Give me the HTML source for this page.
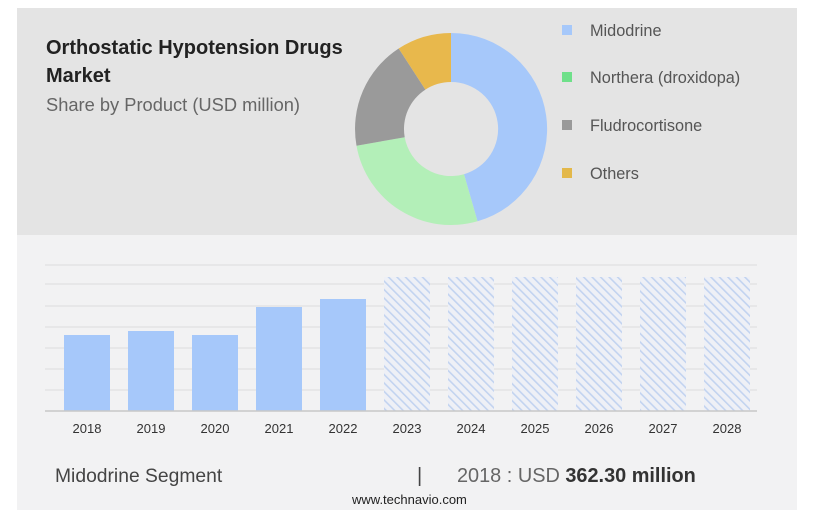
<!DOCTYPE html>
<html><head><meta charset="utf-8"><style>
body{margin:0;width:816px;height:520px;background:#fff;position:relative;overflow:hidden;font-family:"Liberation Sans",sans-serif}
.t{position:absolute;white-space:nowrap}
</style></head><body>
<div style="position:absolute;left:17px;top:8px;width:780px;height:227px;background:#e4e4e4"></div>
<div style="position:absolute;left:17px;top:235px;width:780px;height:275px;background:#f2f2f3"></div>
<div class="t" style="left:46px;top:34px;font-size:20px;font-weight:bold;color:#222;line-height:28px">Orthostatic Hypotension Drugs<br>Market</div>
<div class="t" style="left:46px;top:94px;font-size:18.3px;color:#666">Share by Product (USD million)</div>
<svg style="position:absolute;left:0;top:0" width="816" height="520">
<path d="M451,33 A96,96 0 0 1 477.5,221.3 L464,174.2 A47,47 0 0 0 451,82Z" fill="#a6c8fa"/>
<path d="M477.5,221.3 A96,96 0 0 1 356.5,145.7 L404.7,137.2 A47,47 0 0 0 464,174.2Z" fill="#b3efb8"/>
<path d="M356.5,145.7 A96,96 0 0 1 398.7,48.5 L425.4,89.6 A47,47 0 0 0 404.7,137.2Z" fill="#9a9a9a"/>
<path d="M398.7,48.5 A96,96 0 0 1 451,33 L451,82 A47,47 0 0 0 425.4,89.6Z" fill="#e8b84c"/>
<rect x="562" y="25" width="10" height="10" fill="#a6c8fa"/>
<rect x="562" y="72" width="10" height="10" fill="#6fe08a"/>
<rect x="562" y="120" width="10" height="10" fill="#999"/>
<rect x="562" y="168" width="10" height="10" fill="#e3b84a"/>
<g font-size="16.3" fill="#555" font-family="Liberation Sans,sans-serif">
<text x="590" y="36">Midodrine</text><text x="590" y="83">Northera (droxidopa)</text>
<text x="590" y="131">Fludrocortisone</text><text x="590" y="179">Others</text></g>
<defs><pattern id="h" width="6" height="6" patternUnits="userSpaceOnUse" patternTransform="rotate(-45)">
<rect width="6" height="6" fill="#eef0f6"/><rect width="1.6" height="6" fill="#c2d3f0"/></pattern></defs>
<g stroke="#dcdcdc" stroke-width="1">
<line x1="45" x2="757" y1="265" y2="265"/><line x1="45" x2="757" y1="284" y2="284"/><line x1="45" x2="757" y1="306" y2="306"/>
<line x1="45" x2="757" y1="327" y2="327"/><line x1="45" x2="757" y1="348" y2="348"/><line x1="45" x2="757" y1="369" y2="369"/>
<line x1="45" x2="757" y1="390" y2="390"/></g>
<g fill="url(#h)"><rect x="384" y="277" width="46" height="134"/><rect x="448" y="277" width="46" height="134"/><rect x="512" y="277" width="46" height="134"/><rect x="576" y="277" width="46" height="134"/><rect x="640" y="277" width="46" height="134"/><rect x="704" y="277" width="46" height="134"/></g>
<g fill="#a6c8fa"><rect x="64" y="335" width="46" height="76"/><rect x="128" y="331" width="46" height="80"/><rect x="192" y="335" width="46" height="76"/><rect x="256" y="307" width="46" height="104"/><rect x="320" y="299" width="46" height="112"/></g>
<line x1="45" x2="757" y1="411" y2="411" stroke="#c8c8c8" stroke-width="1.5"/>
<g font-size="13" fill="#333" text-anchor="middle" font-family="Liberation Sans,sans-serif">
<text x="87" y="433">2018</text><text x="151" y="433">2019</text><text x="215" y="433">2020</text><text x="279" y="433">2021</text><text x="343" y="433">2022</text><text x="407" y="433">2023</text><text x="471" y="433">2024</text><text x="535" y="433">2025</text><text x="599" y="433">2026</text><text x="663" y="433">2027</text><text x="727" y="433">2028</text></g>
</svg>
<div class="t" style="left:55px;top:466px;font-size:19.3px;color:#444">Midodrine Segment</div>
<div class="t" style="left:417px;top:465px;font-size:20px;color:#444">|</div>
<div class="t" style="left:457px;top:465px;font-size:19.9px;color:#666">2018 : USD <b style="color:#333">362.30 million</b></div>
<div class="t" style="left:352px;top:492px;font-size:13px;color:#222">www.technavio.com</div>
</body></html>
